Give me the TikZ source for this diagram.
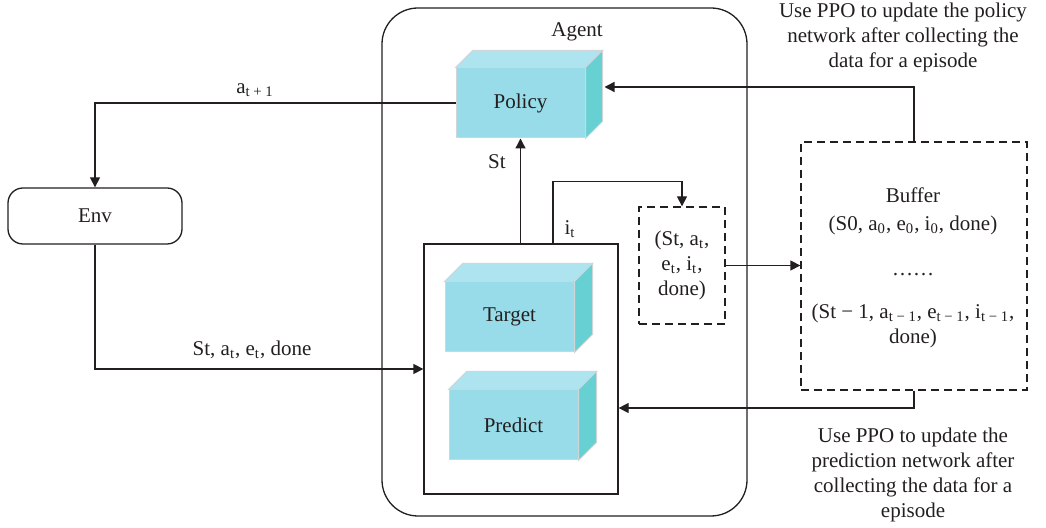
\documentclass[tikz,border=0pt]{standalone}
\usepackage{fontspec}
\setmainfont{Liberation Serif}
\usetikzlibrary{arrows.meta,calc}
\definecolor{ink}{HTML}{231F20}
\definecolor{cubefront}{HTML}{97DCE8}
\definecolor{cubetop}{HTML}{AEE4EF}
\definecolor{cubeside}{HTML}{66D0D3}
\definecolor{cubeedge}{HTML}{CFD6D8}
\newcommand{\lowidx}[1]{\textsubscript{#1}}
% a box drawn as a cube: front face is the named node, top and side faces added behind
\newcommand{\netcube}[4]{%
  \node[cubeface] (#1) at (#2) {#4};
  \fill[cubetop,draw=cubeedge,line width=0.5pt]
    (#1.north west) -- ++(#3,-#3) -- ($(#1.north east)+(#3,-#3)$) -- (#1.north east) -- cycle;
  \fill[cubeside,draw=cubeedge,line width=0.5pt]
    (#1.north east) -- ++(#3,-#3) -- ($(#1.south east)+(#3,-#3)$) -- (#1.south east) -- cycle;
}
\begin{document}
\begin{tikzpicture}[x=0.5pt,y=-0.5pt,
  every node/.style={text=ink,font=\fontsize{10.5}{12.5}\selectfont},
  line/.style={draw=ink,line width=0.65pt},
  arr/.style={line,-{Triangle[length=5pt,width=5pt]}},
  cubeface/.style={fill=cubefront,draw=cubeedge,line width=0.5pt,minimum width=64.5pt,minimum height=35pt,inner sep=0pt},
  dashbox/.style={draw=ink,line width=0.65pt,dash pattern=on 4pt off 2.5pt,inner sep=0pt}]
\useasboundingbox (0,0) rectangle (1046,528);

% Agent container and inner network box
\node[line,rounded corners=18pt,minimum width=182.5pt,minimum height=254pt] (agent) at (564.5,262) {};
\node (agentlbl) at (577,32) {Agent};
\node[line,fill=white,minimum width=97pt,minimum height=125pt] (inner) at (521,369) {};

% networks
\netcube{policy}{520.5,103}{17}{Policy}
\netcube{target}{509.5,317}{18}{Target}
\netcube{predict}{513.5,425}{18}{Predict}

% environment
\node[line,rounded corners=7.5pt,minimum width=87pt,minimum height=28pt] (env) at (95,216) {Env};

% transition and buffer
\node[dashbox,minimum width=43pt,minimum height=58.5pt,align=center] (trans) at (682,265.5)
  {(St, a\lowidx{t},\\ e\lowidx{t}, i\lowidx{t},\\ done)};
\node[dashbox,minimum width=113pt,minimum height=124pt] (buffer) at (914,266) {};
\node[align=center] (buftext) at (913,268)
  {Buffer\\[1.5pt] (S0, a\lowidx{0}, e\lowidx{0}, i\lowidx{0}, done)\\[10pt] ……\\[9pt]
   (St − 1, a\lowidx{t − 1}, e\lowidx{t − 1}, i\lowidx{t − 1},\\ done)};

% connectors
\draw[arr] (policy.west) -| (env.north);
\node (lblact) at (255,90) {a\lowidx{t + 1}};
\draw[arr] (env.south) |- (inner.west);
\node (lblobs) at (252,350) {St, a\lowidx{t}, e\lowidx{t}, done};
\draw[arr] (policy.south |- inner.north) -- (policy.south);
\node (lblst) at (497,162) {St};
\draw[arr] ([xshift=16pt]inner.north) -- ++(0,-62) -| (trans.north);
\node (lblit) at (570,229) {i\lowidx{t}};
\draw[arr] (trans.east) -- (trans.east -| buffer.west);
\draw[arr] (buffer.north) |- ($(policy.east)+(19,-16)$);
\draw[arr] (buffer.south) |- ([yshift=-19.5pt]inner.east);

% update notes
\node[align=center] (notepolicy) at (903,37)
  {Use PPO to update the policy\\ network after collecting the\\ data for a episode};
\node[align=center] (notepred) at (913,475)
  {Use PPO to update the\\ prediction network after\\ collecting the data for a\\ episode};
\end{tikzpicture}
\end{document}
